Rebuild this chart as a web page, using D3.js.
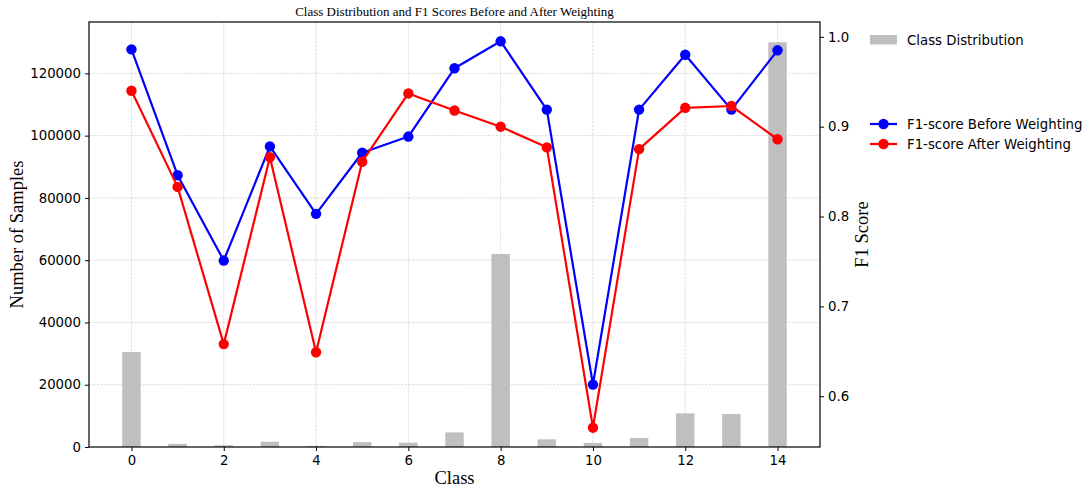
<!DOCTYPE html>
<html><head><meta charset="utf-8">
<script src="https://cdn.jsdelivr.net/npm/d3@7"></script>
<style>body{margin:0;background:#fff}</style>
</head><body><svg id="c" width="1083" height="488"></svg>
<script>
const classes = [0,1,2,3,4,5,6,7,8,9,10,11,12,13,14];
const classCounts = [30500, 1000, 550, 1700, 350, 1550, 1400, 4700, 62000, 2450, 1300, 2900, 10800, 10600, 130000];
const f1Before = [0.986, 0.846, 0.751, 0.878, 0.803, 0.871, 0.889, 0.965, 0.995, 0.919, 0.613, 0.919, 0.980, 0.919, 0.985];
const f1After  = [0.940, 0.833, 0.658, 0.866, 0.649, 0.861, 0.937, 0.918, 0.900, 0.877, 0.565, 0.875, 0.921, 0.923, 0.886];
const xTicks = [0,2,4,6,8,10,12,14];
const leftTicks = [0,20000,40000,60000,80000,100000,120000];
const rightTicks = [0.6,0.7,0.8,0.9,1.0];
const titleText = "Class Distribution and F1 Scores Before and After Weighting";

const svg = d3.select("#c");
const L = 89, R = 820, T = 22, B = 447;
const x = d3.scaleLinear().domain([-0.92, 14.92]).range([L, R]);
const yL = d3.scaleLinear().domain([0, 136500]).range([B, T]);
const yR = d3.scaleLinear().domain([0.5435, 1.0165]).range([B, T]);
const tickFont = "'DejaVu Sans', sans-serif";
const serif = "'Liberation Serif', 'Times New Roman', serif";

// grid
const g = svg.append("g");
g.selectAll("line.gx").data(xTicks).join("line")
  .attr("x1", d => x(d)).attr("x2", d => x(d)).attr("y1", T).attr("y2", B)
  .attr("stroke", "#b0b0b0").attr("stroke-width", 0.7).attr("stroke-dasharray", "2.6,1.2").attr("opacity", 0.6);
g.selectAll("line.gy").data(leftTicks.slice(1)).join("line")
  .attr("x1", L).attr("x2", R).attr("y1", d => yL(d)).attr("y2", d => yL(d))
  .attr("stroke", "#b0b0b0").attr("stroke-width", 0.7).attr("stroke-dasharray", "2.6,1.2").attr("opacity", 0.6);

// bars
const bw = x(0.4) - x(0);
svg.append("g").selectAll("rect").data(classes).join("rect")
  .attr("x", d => x(d) - bw/2).attr("width", bw)
  .attr("y", (d,i) => yL(classCounts[i])).attr("height", (d,i) => B - yL(classCounts[i]))
  .attr("fill", "#bfbfbf");

// lines
function series(vals, color) {
  const line = d3.line().x((d,i) => x(classes[i])).y(d => yR(d));
  svg.append("path").datum(vals).attr("d", line).attr("fill", "none")
    .attr("stroke", color).attr("stroke-width", 2.2).attr("stroke-linejoin", "round");
  svg.append("g").selectAll("circle").data(vals).join("circle")
    .attr("cx", (d,i) => x(classes[i])).attr("cy", d => yR(d)).attr("r", 5.2).attr("fill", color);
}
series(f1Before, "#0000ff");
series(f1After, "#ff0000");

// frame
svg.append("rect").attr("x", L).attr("y", T).attr("width", R-L).attr("height", B-T)
  .attr("fill", "none").attr("stroke", "#000").attr("stroke-width", 1.2);

// axes
const ax = svg.append("g").attr("transform", `translate(0,${B})`)
  .call(d3.axisBottom(x).tickValues(xTicks).tickSize(4).tickPadding(5).tickFormat(d3.format("d")));
const ayl = svg.append("g").attr("transform", `translate(${L},0)`)
  .call(d3.axisLeft(yL).tickValues(leftTicks).tickSize(4).tickPadding(4).tickFormat(d3.format("d")));
const ayr = svg.append("g").attr("transform", `translate(${R},0)`)
  .call(d3.axisRight(yR).tickValues(rightTicks).tickSize(4).tickPadding(4).tickFormat(d3.format(".1f")));
[ax, ayl, ayr].forEach(a => {
  a.select(".domain").remove();
  a.selectAll("line").attr("stroke", "#000").attr("stroke-width", 1);
  a.selectAll("text").attr("font-family", tickFont).attr("font-size", 13.3).attr("fill", "#000");
});

// titles
svg.append("text").attr("x", (L+R)/2).attr("y", 16).attr("text-anchor", "middle")
  .attr("font-family", serif).attr("font-size", 13).text(titleText);
svg.append("text").attr("x", (L+R)/2).attr("y", 484).attr("text-anchor", "middle")
  .attr("font-family", serif).attr("font-size", 18.5).text("Class");
svg.append("text").attr("transform", `translate(23,${(T+B)/2}) rotate(-90)`).attr("text-anchor", "middle")
  .attr("font-family", serif).attr("font-size", 18.5).text("Number of Samples");
svg.append("text").attr("transform", `translate(868,${(T+B)/2}) rotate(-90)`).attr("text-anchor", "middle")
  .attr("font-family", serif).attr("font-size", 18.5).text("F1 Score");

// legends
const lg = svg.append("g").attr("font-family", tickFont).attr("font-size", 13.3);
lg.append("rect").attr("x", 870).attr("y", 35).attr("width", 27).attr("height", 9.5).attr("fill", "#bfbfbf");
lg.append("text").attr("x", 907).attr("y", 45).text("Class Distribution");
const items = [["F1-score Before Weighting", "#0000ff", 124], ["F1-score After Weighting", "#ff0000", 144]];
items.forEach(([t, c, yy]) => {
  lg.append("line").attr("x1", 870).attr("x2", 897).attr("y1", yy).attr("y2", yy).attr("stroke", c).attr("stroke-width", 2.2);
  lg.append("circle").attr("cx", 883.5).attr("cy", yy).attr("r", 5.2).attr("fill", c);
  lg.append("text").attr("x", 907).attr("y", yy + 5).text(t);
});
</script></body></html>
